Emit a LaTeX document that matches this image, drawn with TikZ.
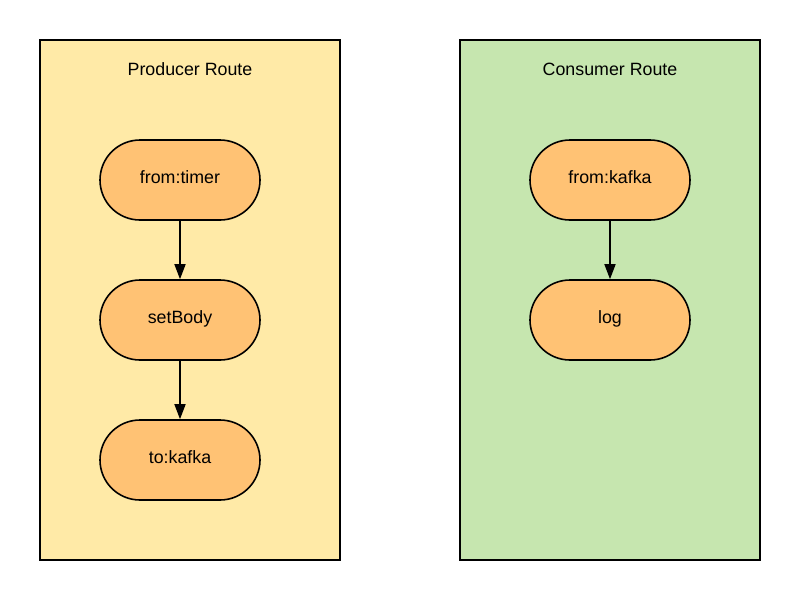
\documentclass[tikz,border=0pt]{standalone}
\usepackage{fontspec}
\setmainfont{Liberation Sans}
\usetikzlibrary{arrows.meta,shapes.misc}
\definecolor{prodfill}{HTML}{FFEAA7}
\definecolor{consfill}{HTML}{C6E6AF}
\definecolor{nodefill}{HTML}{FFC274}
\begin{document}
\begin{tikzpicture}[x=1pt,y=-1pt,
  routebox/.style={draw=black,line width=2pt,fill=#1},
  stepnode/.style={draw=black,line width=1.6pt,fill=nodefill,rounded rectangle,
    minimum width=160pt,minimum height=80pt,inner sep=0pt,text height=12pt,text depth=5pt,
    font=\fontsize{17.8pt}{20pt}\selectfont},
  title/.style={font=\fontsize{17.8pt}{20pt}\selectfont},
  flow/.style={line width=1.6pt,-{Triangle[length=15pt,width=11pt]}}]
\useasboundingbox (0,0) rectangle (800,600);
\fill[white] (0,0) rectangle (800,600);
\draw[routebox=prodfill] (40,40) rectangle (340,560);
\draw[routebox=consfill] (460,40) rectangle (760,560);
\node[title] (pt) at (190,69) {Producer Route};
\node[title] (ct) at (610,69) {Consumer Route};
\node[stepnode] (a) at (180,180) {from:timer};
\node[stepnode] (b) at (180,320) {setBody};
\node[stepnode] (c) at (180,460) {to:kafka};
\node[stepnode] (d) at (610,180) {from:kafka};
\node[stepnode] (e) at (610,320) {log};
\draw[flow] (a) -- (b);
\draw[flow] (b) -- (c);
\draw[flow] (d) -- (e);
\end{tikzpicture}
\end{document}
